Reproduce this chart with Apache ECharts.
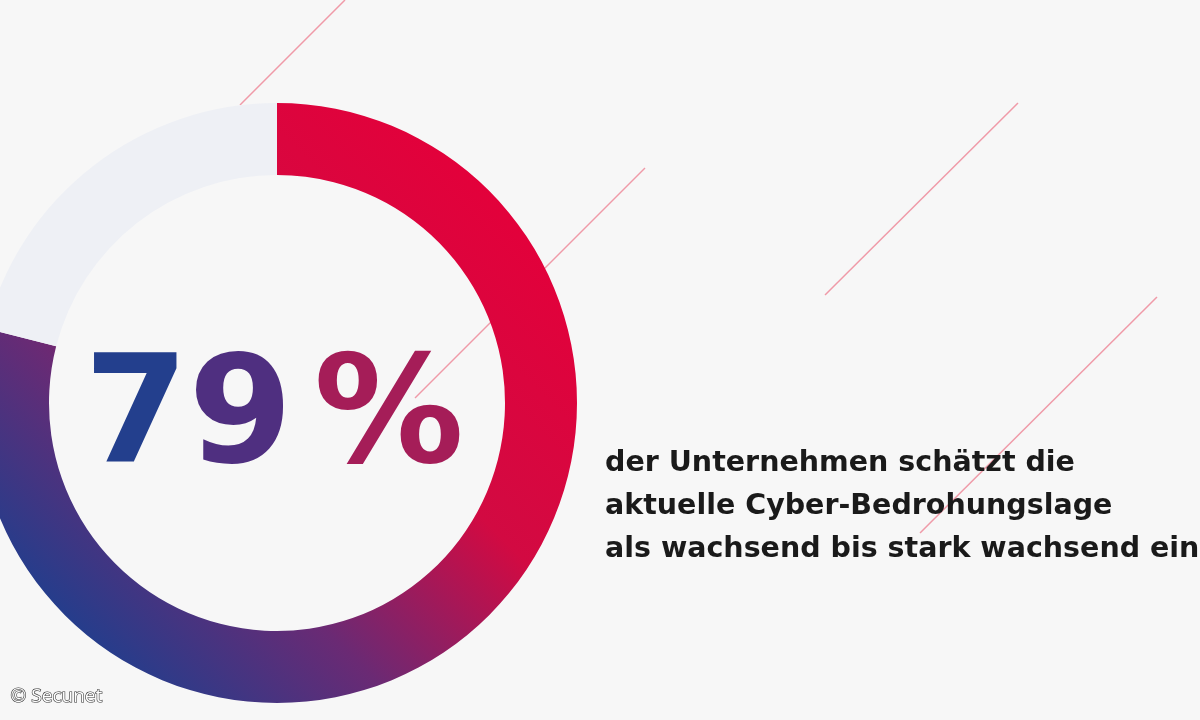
<!DOCTYPE html>
<html><head><meta charset="utf-8">
<script src="https://cdn.jsdelivr.net/npm/echarts@6/dist/echarts.min.js"></script>
<style>html,body{margin:0;padding:0;background:#f7f7f7}#c{width:1200px;height:720px}</style>
</head><body><div id="c"></div>
<script>
const categories = ['wachsend bis stark wachsend', 'andere'];
const values = [79, 21];
const headlineParts = ['7', '9', ' ', '%'];
const textLines = ['der Unternehmen schätzt die', 'aktuelle Cyber-Bedrohungslage', 'als wachsend bis stark wachsend ein'];
const credit = '© Secunet';

const chart = echarts.init(document.getElementById('c'));
const lineStyle = {stroke: '#f09aa8', lineWidth: 1.5};
const hcol = ['#233f8d', '#4f2f80', '#6a2a74', '#a51d58'];
const big = {fontFamily:'"DejaVu Sans"', fontWeight:'bold', fontSize:150};
chart.setOption({
  backgroundColor: '#f7f7f7',
  animation: false,
  graphic: [
    {type:'line', z:0, shape:{x1:240,y1:105,x2:345,y2:0}, style:lineStyle},
    {type:'line', z:0, shape:{x1:645,y1:168,x2:415,y2:398}, style:lineStyle},
    {type:'line', z:0, shape:{x1:825,y1:295,x2:1018,y2:103}, style:lineStyle},
    {type:'line', z:0, shape:{x1:1157,y1:297,x2:920,y2:533}, style:lineStyle},
    {type:'text', z:10, left:84, top:348, style:{
      text: headlineParts.map((c,i)=>'{p'+i+'|'+c+'}').join(''),
      rich: Object.fromEntries(headlineParts.map((c,i)=>['p'+i, Object.assign({fill:hcol[i], color:hcol[i]}, big, i===2?{fontSize:60}:{})]))}},
    {type:'text', z:10, left:605, top:442, style:{text: textLines.join('\n'), fontFamily:'"DejaVu Sans"', fontWeight:'bold', fontSize:28.5, fill:'#1a1a1a', lineHeight:43}},
    {type:'text', z:10, left:10, top:686, style:{text: credit, fontFamily:'"Open Sans"', fontSize:19, fill:'#ffffff', stroke:'#333', lineWidth:1.2}}
  ],
  series: [{
    type:'pie', center:[277,403], radius:[228,300], startAngle:90, clockwise:true,
    label:{show:false}, labelLine:{show:false}, silent:true,
    data: categories.map((n,i)=>({name:n, value:values[i], itemStyle:{color: i===0 ?
      new echarts.graphic.LinearGradient(0.85,0.1,0.1,0.85,[{offset:0,color:'#e4003a'},{offset:0.4,color:'#d20a42'},{offset:0.7,color:'#6a2a74'},{offset:1,color:'#1e3f8e'}])
      : '#eef0f5'}}))
  }]
});
</script></body></html>
